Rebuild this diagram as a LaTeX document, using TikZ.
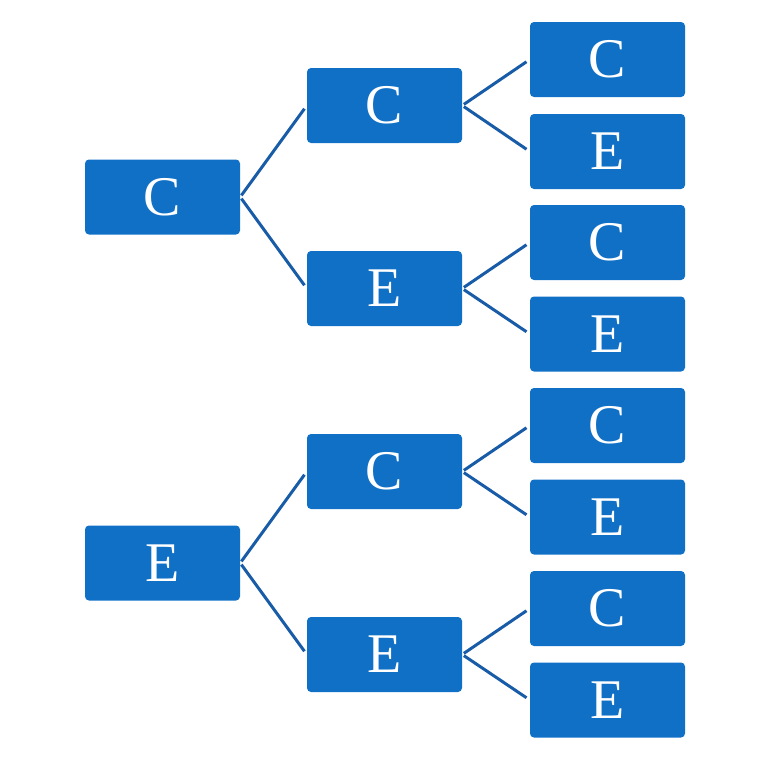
\documentclass[tikz,border=0pt]{standalone}
\usepackage{fontspec}
\setmainfont{Liberation Serif}
\usepackage{tikz}
\definecolor{boxblue}{RGB}{16, 112, 198}
\definecolor{lineblue}{RGB}{24, 92, 168}
\newcommand*{\w}{155pt}

\begin{document}
\begin{tikzpicture}[
   x=1pt, y=-1pt,
   leafrec/.style={rectangle, draw=none, fill=boxblue, rounded corners=4, text=white,
                   inner sep=0, minimum height=75pt, minimum width=\w,
                   font=\fontsize{56}{60}\selectfont}
  ]

  \useasboundingbox (0, 0) rectangle (769, 771);

  % Column positions
  \pgfmathsetmacro{\xa}{162.5}
  \pgfmathsetmacro{\xb}{384.5}
  \pgfmathsetmacro{\xc}{607.5}

  \node (A) at (\xa, 197) [leafrec] {C};
  \node (B) at (\xa, 563) [leafrec] {E};

  \node (C) at (\xb, 105.5) [leafrec] {C};
  \node (D) at (\xb, 288.5) [leafrec] {E};
  \node (E) at (\xb, 471.5) [leafrec] {C};
  \node (F) at (\xb, 654.5) [leafrec] {E};

  \node (G) at (\xc, 59.5) [leafrec] {C};
  \node (H) at (\xc, 151.5) [leafrec] {E};
  \node (I) at (\xc, 242.5) [leafrec] {C};
  \node (J) at (\xc, 334) [leafrec] {E};
  \node (K) at (\xc, 425.5) [leafrec] {C};
  \node (L) at (\xc, 517) [leafrec] {E};
  \node (M) at (\xc, 608.5) [leafrec] {C};
  \node (N) at (\xc, 700) [leafrec] {E};

  \foreach \B/\E in {A/C, A/D, B/E, B/F, C/G, C/H, D/I, D/J, E/K, E/L, F/M, F/N} {
    \draw[color=lineblue, line width=3, shorten <=2pt, shorten >=4pt] (\B.east) -- (\E.west);
  }

\end{tikzpicture}
\end{document}
